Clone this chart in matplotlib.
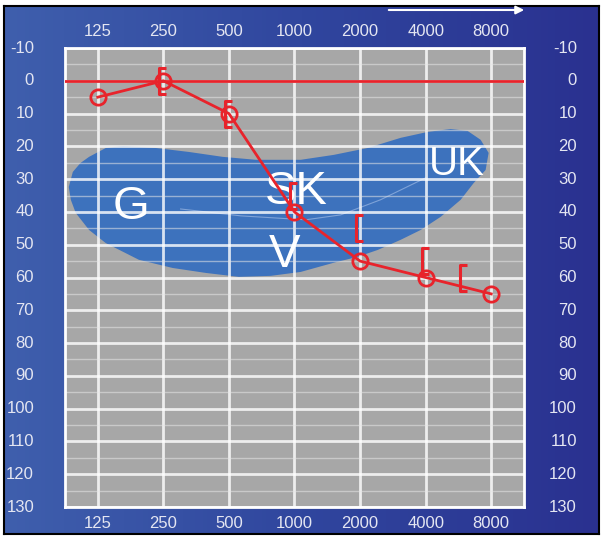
import matplotlib
matplotlib.use('Agg')
import numpy as np
import matplotlib.pyplot as plt
from matplotlib.path import Path
from matplotlib.colors import LinearSegmentedColormap
import matplotlib.transforms as mtransforms

plt.rcParams['font.family'] = ['Liberation Sans', 'DejaVu Sans']

# axes ticks
freq_ticks = [125, 250, 500, 1000, 2000, 4000, 8000]
db_ticks = [-10, 0, 10, 20, 30, 40, 50, 60, 70, 80, 90, 100, 110, 120, 130]

# air conduction thresholds (circles)
air_freq = [125, 250, 500, 1000, 2000, 4000, 8000]
air_db = [5, 0, 10, 40, 55, 60, 65]

# bone conduction thresholds (brackets)
bone_freq = [250, 500, 1000, 2000, 4000, 6000]
bone_db = [0, 10, 35, 45, 55, 60]

# speech banana outline (Hz, dB HL)
banana_freq = [92, 96, 104, 114, 136, 163, 231, 327, 468, 664, 1068, 1514, 2167,
               3073, 4086, 5210, 6236, 7153, 7784, 7541, 6644, 5792, 4687, 3797,
               3073, 2409, 1948, 1514, 1068, 778, 555, 391, 276, 193, 136, 114, 99, 94]
banana_db = [32.4, 27.8, 25.1, 23.2, 20.5, 19.9, 20.5, 21.7, 23.2, 24.1, 24.1, 22.6, 20.5,
             17.4, 15.6, 14.7, 15.3, 18.0, 22.0, 27.2, 31.2, 36.3, 41.5, 45.5,
             48.5, 51.6, 53.7, 55.5, 58.3, 59.5, 59.8, 58.6, 57.1, 54.6, 49.5, 45.5, 40.3, 36.3]

# faint inner contour of the banana
inner_freq = [300, 567, 1126, 1629, 2481, 4000]
inner_db = [39.1, 41.2, 42.4, 40.9, 36.3, 29.6]

# phoneme group letters
letters = ['G', 'SK', 'V', 'UK']
letter_freq = [177, 1023, 900, 5550]
letter_db = [38.5, 34, 53, 25.5]
letter_size = [34, 34, 34, 29]

W, H = 603, 538
red = '#e8232b'
label_col = '#e4e6f2'

fig = plt.figure(figsize=(W / 100, H / 100), dpi=100)
fig.patch.set_facecolor('white')

# blue frame with gradient
bg = fig.add_axes([4 / W, 1 - 534 / H, 595 / W, 528 / H])
cmap = LinearSegmentedColormap.from_list('frame', ['#3f5fad', '#30469e', '#2a3190'])
grad = np.linspace(0, 1, 256).reshape(1, -1)
bg.imshow(grad, cmap=cmap, aspect='auto', extent=[0, 1, 0, 1])
bg.set_xticks([]); bg.set_yticks([])
for s in bg.spines.values():
    s.set_color('black'); s.set_linewidth(1.5)

# arrow at the top
bg.annotate('', xy=(527, H - 10), xytext=(386, H - 10), xycoords='figure pixels',
            textcoords='figure pixels',
            arrowprops=dict(arrowstyle='-|>', color='white', lw=1.5, mutation_scale=12))

# audiogram panel
ax = fig.add_axes([65 / W, 1 - 507 / H, 459 / W, 459 / H])
ax.set_facecolor('#a7a7a7')
ax.set_xscale('log', base=2)
ax.set_xlim(125 / 2 ** 0.5, 8000 * 2 ** 0.5)
ax.set_ylim(130, -10)
ax.set_xticks(freq_ticks)
ax.set_xticks([], minor=True)
ax.set_yticks(db_ticks)
ax.set_yticks(np.arange(-5, 130, 10), minor=True)
ax.set_axisbelow('line')
ax.grid(which='major', color='white', lw=2, alpha=0.8)
ax.grid(which='minor', axis='y', color='#e6e6e6', lw=1, alpha=0.55)
ax.tick_params(which='both', length=0, labelbottom=False, labelleft=False)
for s in ax.spines.values():
    s.set_color('white'); s.set_linewidth(2)

# speech banana
ax.fill(banana_freq, banana_db, color='#3d72bd', lw=0, zorder=1)
ax.plot(inner_freq, inner_db, color='#7fa3d8', lw=0.8, zorder=1.2)
for t, f, d, fs in zip(letters, letter_freq, letter_db, letter_size):
    ax.text(f, d, t, color='white', fontsize=fs, ha='center', va='center', zorder=3)

# 0 dB reference line
ax.axhline(0, color=red, lw=2, zorder=4)

# air conduction
ax.plot(air_freq, air_db, color=red, lw=2, marker='o', ms=11, mfc='none',
        mec=red, mew=2, zorder=5)

# bone conduction brackets
bracket = Path([(0.25, 1), (-0.33, 1), (-0.33, -1), (0.25, -1)],
               [Path.MOVETO, Path.LINETO, Path.LINETO, Path.LINETO])
ax.plot(bone_freq, bone_db, ls='none', marker=bracket, ms=19, mfc='none',
        mec=red, mew=2.2, zorder=5)

# tick labels
yl = mtransforms.blended_transform_factory(fig.transFigure, ax.transData)
for d in db_ticks:
    ax.text(34 / W, d, str(d), transform=yl, ha='right', va='center',
            fontsize=12, color=label_col)
    ax.text(577 / W, d, str(d), transform=yl, ha='right', va='center',
            fontsize=12, color=label_col)
xl = mtransforms.blended_transform_factory(ax.transData, fig.transFigure)
for f in freq_ticks:
    ax.text(f, 1 - 32 / H, str(f), transform=xl, ha='center', va='center',
            fontsize=12, color=label_col)
    ax.text(f, 1 - 524 / H, str(f), transform=xl, ha='center', va='center',
            fontsize=12, color=label_col)

fig.savefig('out.png', dpi=100)
